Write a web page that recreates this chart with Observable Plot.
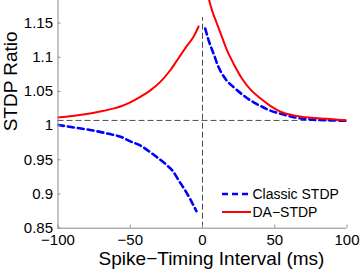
<!DOCTYPE html>
<html>
<head>
<meta charset="utf-8">
<script src="https://cdn.jsdelivr.net/npm/d3@7"></script>
<script src="https://cdn.jsdelivr.net/npm/@observablehq/plot@0.6"></script>
<style>
  html, body { margin: 0; padding: 0; background: #fff; }
  #chart { width: 363px; height: 270px; }
</style>
</head>
<body>
<div id="chart"></div>
<script>
// ---- Data ----
const classicPreMs   = [-100, -88, -76, -65, -55.7, -50, -43.1, -36.1, -30.4, -24.6, -20, -16.5, -11.9, -8.4, -4.2];
const classicPreVal  = [1.001, 0.997, 0.993, 0.988, 0.983, 0.977, 0.971, 0.961, 0.952, 0.942, 0.932, 0.920, 0.905, 0.892, 0.875];
const classicPostMs  = [1.9, 4.2, 7.7, 11.1, 15.8, 21.5, 28.5, 35.4, 40, 46.9, 53.9, 63, 74.6, 86.2, 100];
const classicPostVal = [1.142, 1.125, 1.105, 1.0856, 1.0686, 1.0563, 1.044, 1.034, 1.029, 1.022, 1.0175, 1.0124, 1.009, 1.0078, 1.0072];
const daPreMs        = [-100, -90, -80, -70, -60, -56.8, -50, -43.1, -36.1, -29.2, -22.3, -16.5, -10.7, -6.2, -2.7];
const daPreVal       = [1.012, 1.014, 1.017, 1.021, 1.026, 1.028, 1.034, 1.042, 1.0515, 1.064, 1.081, 1.099, 1.117, 1.130, 1.145];
const daPostMs       = [3.5, 6.6, 10, 13.5, 17, 21.5, 27.3, 33.1, 40, 46.9, 53.9, 63, 74.6, 86.2, 100];
const daPostVal      = [1.192, 1.1686, 1.149, 1.1295, 1.110, 1.0906, 1.069, 1.053, 1.040, 1.029, 1.0205, 1.015, 1.0116, 1.010, 1.0076];
const baselineValue  = [1.0076];
const zeroLineMs     = [0];
const zeroLineTop    = [1.158];
const xTicks = [-100, -50, 0, 50, 100];
const xTickLabels = ["\u2212100", "\u221250", "0", "50", "100"];
const yTicks = [0.85, 0.9, 0.95, 1, 1.05, 1.1, 1.15];
const yTickLabels = ["0.85", "0.9", "0.95", "1", "1.05", "1.1", "1.15"];
const seriesNames = ["Classic STDP", "DA\u2212STDP"];
const xLabel = "Spike\u2212Timing Interval (ms)";
const yLabel = "STDP Ratio";

// ---- Build tables ----
const zip = (xs, ys, seg, name) => xs.map((x, i) => ({x, y: ys[i], seg, name}));
const classic = [...zip(classicPreMs, classicPreVal, "pre", seriesNames[0]), ...zip(classicPostMs, classicPostVal, "post", seriesNames[0])];
const da = [...zip(daPreMs, daPreVal, "pre", seriesNames[1]), ...zip(daPostMs, daPostVal, "post", seriesNames[1])];

const font = "'Liberation Sans', Arial, Helvetica, sans-serif";
const axisGray = "#8c8c8c";

const plot = Plot.plot({
  width: 363,
  height: 270,
  marginLeft: 57.5,
  marginRight: 16.5,
  marginTop: 0,
  marginBottom: 42.3,
  style: {fontFamily: font, background: "#fff", color: "#000", overflow: "visible"},
  x: {domain: [-100, 100]},
  y: {domain: [0.85, 1.183]},
  marks: [
    // reference dashed lines
    Plot.ruleY(baselineValue, {x1: -100, x2: 100, stroke: "#4d4d4d", strokeWidth: 1, strokeDasharray: "6,3"}),
    Plot.ruleX(zeroLineMs, {y1: 0.85, y2: zeroLineTop[0], stroke: "#4d4d4d", strokeWidth: 1, strokeDasharray: "6,3"}),
    // series
    Plot.line(classic, {x: "x", y: "y", z: "seg", curve: "monotone-x", stroke: "#0000ff", strokeWidth: 2.6, strokeDasharray: "6,4", clip: true}),
    Plot.line(da, {x: "x", y: "y", z: "seg", curve: "monotone-x", stroke: "#ff0000", strokeWidth: 2, clip: true}),
    // axes
    Plot.ruleX([-100], {stroke: axisGray, strokeWidth: 1}),
    Plot.ruleY([0.85], {stroke: axisGray, strokeWidth: 1}),
    Plot.axisY({ticks: yTicks, tickFormat: (d) => yTickLabels[yTicks.indexOf(d)], tickSize: -3, tickPadding: 8, stroke: axisGray, fill: "#000", fontSize: 15, label: null}),
    Plot.axisX({ticks: xTicks, tickFormat: (d) => xTickLabels[xTicks.indexOf(d)], tickSize: -3, tickPadding: 9.5, stroke: axisGray, fill: "#000", fontSize: 15, label: null}),
    // axis titles
    Plot.text([xLabel], {frameAnchor: "bottom", dx: 9, dy: 30.5, fontSize: 19, fill: "#000", lineAnchor: "middle"}),
    Plot.text([yLabel], {frameAnchor: "left", dx: -47.5, dy: 17, rotate: -90, fontSize: 19, fill: "#000", lineAnchor: "middle"})
  ]
});

document.getElementById("chart").appendChild(plot);

// ---- Legend (inside plot, lower right) ----
const svg = d3.select(plot);
const leg = svg.append("g").attr("font-family", font).attr("font-size", 14).attr("text-anchor", "start");
const legendItems = [
  {name: seriesNames[0], stroke: "#0000ff", width: 2.6, dash: "6,4", y: 194},
  {name: seriesNames[1], stroke: "#ff0000", width: 2, dash: null, y: 212}
];
legendItems.forEach(d => {
  leg.append("line")
    .attr("x1", 222).attr("x2", 251).attr("y1", d.y).attr("y2", d.y)
    .attr("stroke", d.stroke).attr("stroke-width", d.width)
    .attr("stroke-dasharray", d.dash);
  leg.append("text")
    .attr("x", 252.5).attr("y", d.y).attr("dy", "0.35em")
    .attr("text-anchor", "start")
    .attr("fill", "#000").text(d.name);
});
</script>
</body>
</html>
